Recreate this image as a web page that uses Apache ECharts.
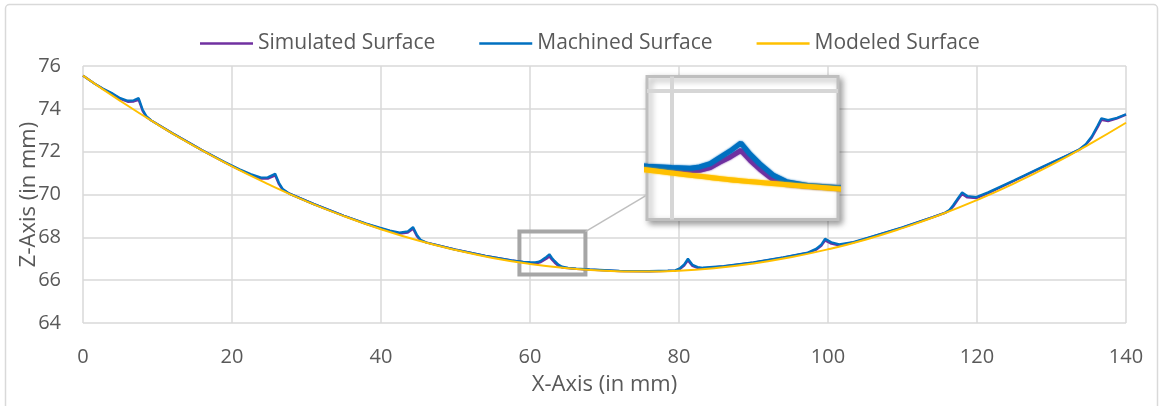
<!DOCTYPE html>
<html>
<head>
<meta charset="utf-8">
<script src="https://cdn.jsdelivr.net/npm/echarts/dist/echarts.min.js"></script>
<style>
  html, body { margin: 0; padding: 0; background: #fff; }
  #chart { width: 1163px; height: 406px; }
</style>
</head>
<body>
<div id="chart"></div>
<script>
// values (mm)
const seriesNames = ["Simulated Surface", "Machined Surface", "Modeled Surface"];
const xTicks = [0, 20, 40, 60, 80, 100, 120, 140];
const zTicks = [64, 66, 68, 70, 72, 74, 76];

const surfaceX = [0, 1.5, 2.7, 4, 5, 6, 6.8, 7.47, 8, 8.5, 9.2, 12, 16, 19, 21, 22.5, 23.9, 24.8, 25.8, 26.3,
  26.8, 27.7, 31, 35, 38, 39.8, 41.2, 42.5, 43.6, 44.3, 44.8, 45.3, 46.1, 50, 54, 57.5, 59.1, 60, 60.7, 61.05,
  61.45, 61.8, 62.2, 62.6, 62.95, 63.3, 63.8, 64.3, 65.1, 66.2, 68, 72, 76, 78.5, 79.5, 80.1, 80.7, 81.2, 81.8, 82.5,
  83.2, 86, 90, 94, 97.3, 98.4, 99.1, 99.6, 100.45, 101.5, 103.4, 106, 110, 114, 115.7, 116.3, 116.8, 117.45, 118, 118.7,
  119.9, 121.5, 125, 129, 132.2, 133.7, 134.6, 135.4, 136.2, 136.7, 137.6, 138.8, 140];

const machinedZ = [75.55, 75.19, 74.94, 74.71, 74.50, 74.38, 74.40, 74.50, 73.97, 73.66,
  73.45, 72.86, 72.07, 71.52, 71.18, 70.95, 70.79, 70.80, 70.97, 70.55,
  70.26, 70.04, 69.55, 69.01, 68.64, 68.45, 68.32, 68.22, 68.28, 68.48,
  68.13, 67.89, 67.76, 67.43, 67.14, 66.93, 66.86, 66.84, 66.83, 66.85,
  66.90, 66.99, 67.09, 67.21, 67.04, 66.90, 66.73, 66.63, 66.57, 66.54,
  66.50, 66.43, 66.42, 66.44, 66.46, 66.55, 66.74, 67.00, 66.72, 66.61,
  66.58, 66.66, 66.83, 67.06, 67.29, 67.46, 67.66, 67.93, 67.77, 67.67,
  67.78, 68.05, 68.47, 68.94, 69.15, 69.28, 69.50, 69.83, 70.10, 69.93,
  69.88, 70.10, 70.67, 71.33, 71.84, 72.10, 72.35, 72.71, 73.22, 73.56,
  73.48, 73.58, 73.75];

const simulatedZ = [75.55, 75.19, 74.93, 74.68, 74.46, 74.33, 74.34, 74.42, 73.90, 73.62,
  73.45, 72.86, 72.07, 71.51, 71.16, 70.92, 70.74, 70.74, 70.89, 70.48,
  70.22, 70.04, 69.55, 69.01, 68.63, 68.43, 68.29, 68.17, 68.22, 68.40,
  68.06, 67.85, 67.76, 67.43, 67.13, 66.92, 66.84, 66.81, 66.79, 66.80,
  66.84, 66.92, 67.00, 67.10, 66.95, 66.82, 66.66, 66.59, 66.56, 66.53,
  66.49, 66.42, 66.41, 66.43, 66.45, 66.51, 66.68, 66.92, 66.66, 66.57,
  66.55, 66.64, 66.82, 67.05, 67.27, 67.42, 67.60, 67.85, 67.70, 67.62,
  67.76, 68.04, 68.46, 68.93, 69.14, 69.25, 69.44, 69.76, 70.02, 69.86,
  69.83, 70.06, 70.64, 71.31, 71.83, 72.09, 72.32, 72.65, 73.14, 73.48,
  73.42, 73.55, 73.73];

const modeledX = [0, 5, 10, 15, 20, 25, 30, 35, 40, 45, 50, 55, 60, 65, 70,
  75, 80, 85, 90, 95, 100, 105, 110, 115, 120, 125, 130, 135, 140];
const modeledZ = [75.55, 74.37, 73.27, 72.25, 71.31, 70.46, 69.68, 68.99, 68.38, 67.85, 67.41, 67.04, 66.76, 66.56, 66.44,
  66.40, 66.44, 66.57, 66.78, 67.07, 67.44, 67.89, 68.43, 69.04, 69.74, 70.52, 71.38, 72.33, 73.35];

// zoomed window (data units) and the box marked on the main chart
const zoomX = [59.08, 66.24];
const zoomZ = [66.06, 68.21];
const boxCorners = [[58.58, 68.27], [67.44, 66.27]];
const connector = [[67.44, 68.27], [75.5, 69.94]];

const colors = ["#7030A0", "#0070C0", "#FFC000"];
const textColor = "#595959";
const gridColor = "#d9d9d9";
const font = "'Open Sans', sans-serif";

function pairs(xs, zs) {
  return xs.map(function (x, i) { return [x, zs[i]]; });
}
const simulatedData = pairs(surfaceX, simulatedZ),
  machinedData = pairs(surfaceX, machinedZ),
  modeledData = pairs(modeledX, modeledZ);

let myChart = echarts.init(document.getElementById("chart"), null, { renderer: "canvas" });

let series = [];
[simulatedData, machinedData, modeledData].forEach(function (d, i) {
  series.push({
    name: seriesNames[i],
    type: "line",
    data: d,
    symbol: "none",
    smooth: i === 2,
    z: 2 + i * 0.1,
    lineStyle: { color: colors[i], width: i === 2 ? 2 : 2.25 },
    itemStyle: { color: colors[i] }
  });
});
// box + connector on main chart
series.push({
  type: "line",
  data: [],
  z: 6,
  silent: true,
  markArea: {
    silent: true,
    itemStyle: { color: "rgba(0,0,0,0)", borderColor: "#a6a6a6", borderWidth: 4 },
    data: [[{ coord: boxCorners[0] }, { coord: boxCorners[1] }]]
  },
  markLine: {
    silent: true,
    symbol: ["none", "none"],
    label: { show: false },
    lineStyle: { color: "#bfbfbf", width: 1.5, type: "solid" },
    data: [[{ coord: connector[0] }, { coord: connector[1] }]]
  }
});
// inset gridlines
series.push({
  type: "line",
  xAxisIndex: 1,
  yAxisIndex: 1,
  data: [],
  z: 4,
  silent: true,
  markLine: {
    silent: true,
    symbol: ["none", "none"],
    label: { show: false },
    lineStyle: { color: "#d6d6d6", width: 4, type: "solid" },
    data: [{ xAxis: 60 }, { yAxis: 68 }]
  }
});
// inset copies
[simulatedData, machinedData, modeledData].forEach(function (d, i) {
  series.push({
    name: seriesNames[i],
    type: "line",
    xAxisIndex: 1,
    yAxisIndex: 1,
    data: d,
    symbol: "none",
    smooth: i === 2,
    z: 5 + i * 0.1,
    lineStyle: { color: colors[i], width: 5, shadowColor: colors[i], shadowBlur: 2 },
    itemStyle: { color: colors[i] }
  });
});

let option = {
  animation: false,
  backgroundColor: "#fff",
  textStyle: { fontFamily: font },
  graphic: [{
    type: "rect",
    shape: { x: 5.5, y: 4.5, width: 1152, height: 420, r: 4 },
    style: { fill: null, stroke: gridColor, lineWidth: 1.5 },
    silent: true
  }],
  legend: {
    data: seriesNames,
    left: 200,
    top: 33,
    padding: 0,
    icon: "rect",
    itemWidth: 53,
    itemHeight: 2.5,
    itemGap: 44,
    textStyle: { color: textColor, fontSize: 21, fontFamily: font }
  },
  grid: [
    { left: 83, right: 37, top: 66, bottom: 83, outerBoundsMode: "none", containLabel: false },
    {
      left: 647, top: 76.5, width: 191, height: 143, z: 3, outerBoundsMode: "none",
      show: true, backgroundColor: "#fff", borderColor: "#bfbfbf", borderWidth: 3,
      shadowColor: "rgba(0,0,0,0.35)", shadowBlur: 6, shadowOffsetX: 3, shadowOffsetY: 3
    }
  ],
  xAxis: [
    {
      type: "value",
      min: xTicks[0],
      max: xTicks[xTicks.length - 1],
      interval: 20,
      name: "X-Axis (in mm)",
      nameLocation: "middle",
      nameGap: 51,
      nameMoveOverlap: false,
      nameTextStyle: { color: textColor, fontSize: 22, fontFamily: font },
      axisLine: { show: false },
      axisTick: { show: false },
      axisLabel: { color: textColor, fontSize: 20, margin: 24, fontFamily: font },
      splitLine: { show: true, lineStyle: { color: gridColor, width: 1.5 } }
    },
    { type: "value", gridIndex: 1, min: zoomX[0], max: zoomX[1], show: false, splitLine: { show: false } }
  ],
  yAxis: [
    {
      type: "value",
      min: zTicks[0],
      max: zTicks[zTicks.length - 1],
      interval: 2,
      name: "Z-Axis (in mm)",
      nameLocation: "middle",
      nameGap: 43,
      nameMoveOverlap: false,
      nameTextStyle: { color: textColor, fontSize: 22, fontFamily: font },
      axisLine: { show: false },
      axisTick: { show: false },
      axisLabel: { color: textColor, fontSize: 20, margin: 22, fontFamily: font },
      splitLine: { show: true, lineStyle: { color: gridColor, width: 1.5 } }
    },
    { type: "value", gridIndex: 1, min: zoomZ[0], max: zoomZ[1], show: false, splitLine: { show: false } }
  ],
  series: series
};

myChart.setOption(option);
window.addEventListener("resize", function () { myChart.resize(); });
</script>
</body>
</html>
